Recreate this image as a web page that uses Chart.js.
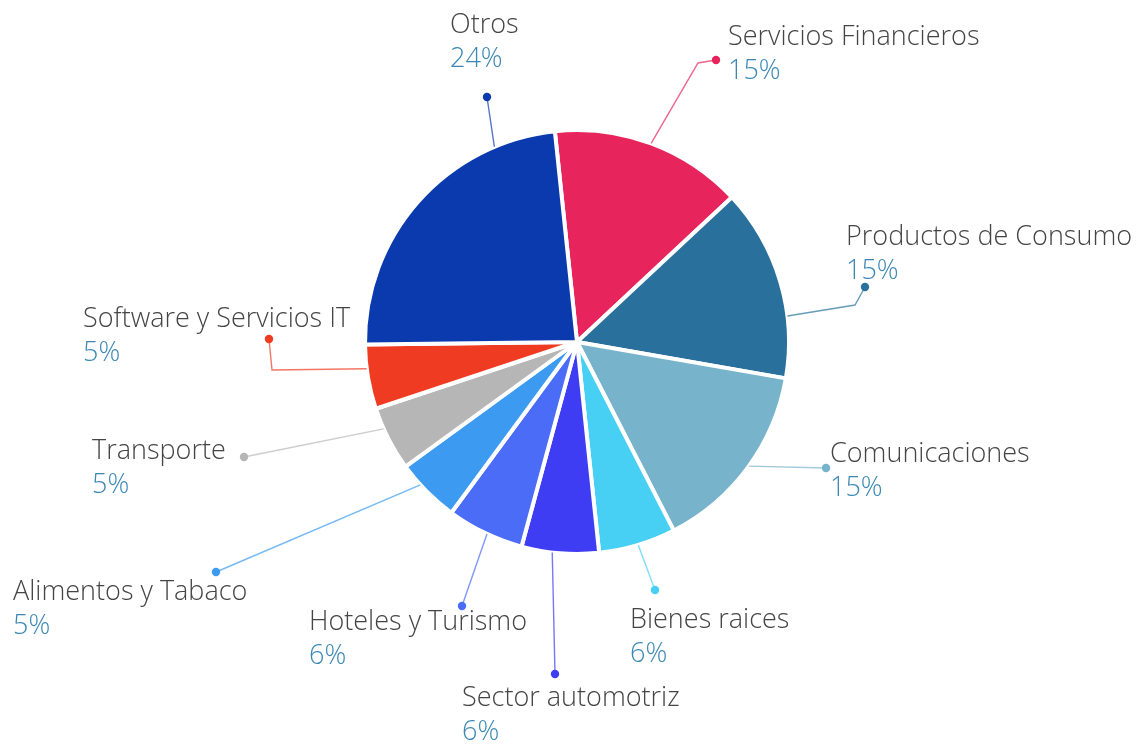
<!DOCTYPE html>
<html lang="es">
<head>
<meta charset="utf-8">
<title>Distribución por sector</title>
<script src="https://cdn.jsdelivr.net/npm/chart.js@4.4.1/dist/chart.umd.min.js"></script>
<style>
  html, body { margin: 0; padding: 0; background: #ffffff; }
  #wrap { width: 1145px; height: 747px; position: relative; }
</style>
</head>
<body>
<div id="wrap"><canvas id="chart" width="1145" height="747"></canvas></div>
<script>
// Sectors, clockwise from the top
const sectors = [
  'Servicios Financieros',
  'Productos de Consumo',
  'Comunicaciones',
  'Bienes raices',
  'Sector automotriz',
  'Hoteles y Turismo',
  'Alimentos y Tabaco',
  'Transporte',
  'Software y Servicios IT',
  'Otros'
];
// Share of each sector, in percent
const shares = [15, 15, 15, 6, 6, 6, 5, 5, 5, 24];

const sliceColors = [
  '#e8245d', '#29709c', '#77b4cc', '#48d0f4', '#3f3df4',
  '#4a6cf6', '#3c9bf0', '#b6b6b6', '#ef3b22', '#0b3aae'
];

// Callout placement per slice: where the leader line leaves the arc (fraction
// of the slice's sweep), an optional elbow, the marker dot and the text origin,
// all as pixel offsets from the pie centre.
const calloutLayout = [
  { at: 0.50, elbow: [121, -279], dot: [139, -282], text: [151, -297] },
  { at: 0.68, elbow: [278, -37],  dot: [288, -55],  text: [269, -97] },
  { at: 0.49, elbow: null,        dot: [249, 126],  text: [253, 120] },
  { at: 0.49, elbow: null,        dot: [78, 248],   text: [53, 286] },
  { at: 0.60, elbow: null,        dot: [-22, 332],  text: [-115, 364] },
  { at: 0.47, elbow: null,        dot: [-115, 264], text: [-268, 288] },
  { at: 0.64, elbow: null,        dot: [-361, 230], text: [-564, 258] },
  { at: 0.67, elbow: null,        dot: [-333, 115], text: [-485, 117] },
  { at: 0.63, elbow: [-305, 28],  dot: [-308, -3],  text: [-494, -15] },
  { at: 0.80, elbow: null,        dot: [-90, -245], text: [-127, -309] }
];

function withAlpha(hex, a) {
  const n = parseInt(hex.slice(1), 16);
  return `rgba(${(n >> 16) & 255}, ${(n >> 8) & 255}, ${n & 255}, ${a})`;
}

const callouts = {
  id: 'callouts',
  afterDatasetsDraw(chart) {
    const ctx = chart.ctx;
    const meta = chart.getDatasetMeta(0);
    const ds = chart.data.datasets[0];
    meta.data.forEach((arc, i) => {
      const lay = calloutLayout[i];
      const { x, y, startAngle, endAngle, outerRadius } = arc.getProps(
        ['x', 'y', 'startAngle', 'endAngle', 'outerRadius'], true);
      const a = startAngle + lay.at * (endAngle - startAngle);
      const ax = x + Math.cos(a) * outerRadius;
      const ay = y + Math.sin(a) * outerRadius;
      const dx = x + lay.dot[0], dy = y + lay.dot[1];
      const color = ds.backgroundColor[i];

      ctx.save();
      ctx.strokeStyle = withAlpha(color, 0.7);
      ctx.lineWidth = 1.4;
      ctx.beginPath();
      ctx.moveTo(ax, ay);
      if (lay.elbow) ctx.lineTo(x + lay.elbow[0], y + lay.elbow[1]);
      ctx.lineTo(dx, dy);
      ctx.stroke();

      ctx.fillStyle = color;
      ctx.beginPath();
      ctx.arc(dx, dy, 4.2, 0, Math.PI * 2);
      ctx.fill();

      const tx = x + lay.text[0], ty = y + lay.text[1];
      ctx.textAlign = 'left';
      ctx.textBaseline = 'alphabetic';
      ctx.font = '300 27px "Open Sans"';
      ctx.fillStyle = '#444444';
      ctx.fillText(chart.data.labels[i], tx, ty);
      ctx.fillStyle = '#3a87b4';
      ctx.fillText(ds.data[i] + '%', tx, ty + 34);
      ctx.restore();
    });
  }
};

new Chart(document.getElementById('chart'), {
  type: 'pie',
  data: {
    labels: sectors,
    datasets: [{
      data: shares,
      backgroundColor: sliceColors,
      borderColor: '#ffffff',
      borderWidth: 4
    }]
  },
  options: {
    responsive: false,
    animation: false,
    events: [],
    rotation: -6,
    layout: { padding: { top: 128, bottom: 191, left: 9, right: 0 } },
    plugins: {
      legend: { display: false },
      tooltip: { enabled: false }
    }
  },
  plugins: [callouts]
});
</script>
</body>
</html>
